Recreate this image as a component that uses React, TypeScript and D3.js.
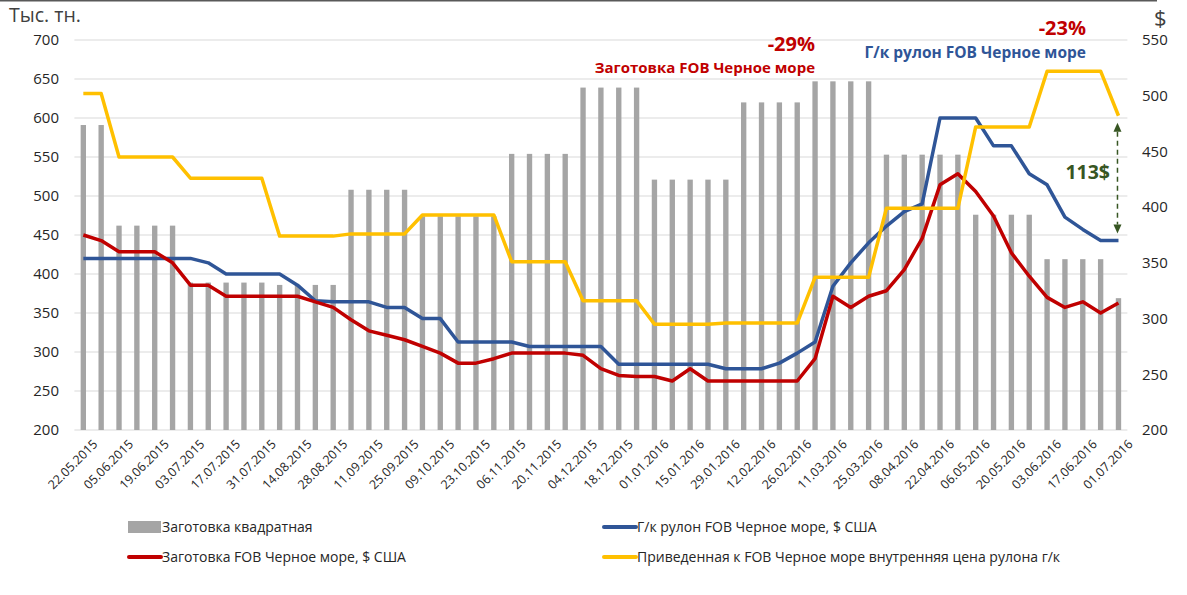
import React from "react";
import * as d3 from "d3";

const categories = [
  "22.05.2015","29.05.2015","05.06.2015","12.06.2015","19.06.2015","26.06.2015",
  "03.07.2015","10.07.2015","17.07.2015","24.07.2015","31.07.2015",
  "07.08.2015","14.08.2015","21.08.2015","28.08.2015",
  "04.09.2015","11.09.2015","18.09.2015","25.09.2015",
  "02.10.2015","09.10.2015","16.10.2015","23.10.2015","30.10.2015",
  "06.11.2015","13.11.2015","20.11.2015","27.11.2015",
  "04.12.2015","11.12.2015","18.12.2015","25.12.2015",
  "01.01.2016","08.01.2016","15.01.2016","22.01.2016","29.01.2016",
  "05.02.2016","12.02.2016","19.02.2016","26.02.2016",
  "04.03.2016","11.03.2016","18.03.2016","25.03.2016",
  "01.04.2016","08.04.2016","15.04.2016","22.04.2016","29.04.2016",
  "06.05.2016","13.05.2016","20.05.2016","27.05.2016",
  "03.06.2016","10.06.2016","17.06.2016","24.06.2016",
  "01.07.2016",
];

// Заготовка квадратная, тыс. тн (left axis)
const billetVolume = [
  591, 591, 462, 462, 462, 462,
  389, 389, 389, 389, 389,
  386, 386, 386, 386,
  508, 508, 508, 508,
  474, 474, 474, 474, 474,
  554, 554, 554, 554,
  639, 639, 639, 639,
  521, 521, 521, 521, 521,
  620, 620, 620, 620,
  647, 647, 647, 647,
  553, 553, 553, 553, 553,
  476, 476, 476, 476,
  419, 419, 419, 419,
  369,
];

// Заготовка FOB Черное море, $ США (right axis)
const billetFob = [
  375, 370, 360, 360, 360, 350,
  330, 330, 320, 320, 320,
  320, 320, 315, 310,
  299, 289, 285, 281,
  275, 269, 260, 260, 264,
  269, 269, 269, 269,
  267, 255, 249, 248,
  248, 244, 255, 244, 244,
  244, 244, 244, 244,
  264, 320, 310, 320,
  325, 344, 372, 420, 430,
  414, 392, 359, 338,
  319, 310, 315, 305,
  314,
];

// Г/к рулон FOB Черное море, $ США (right axis)
const hrcFob = [
  354, 354, 354, 354, 354, 354,
  354, 350, 340, 340, 340,
  340, 330, 316, 315,
  315, 315, 310, 310,
  300, 300, 279, 279, 279,
  279, 275, 275, 275,
  275, 275, 259, 259,
  259, 259, 259, 259, 255,
  255, 255, 260, 269,
  279, 329, 350, 368,
  383, 396, 403, 480, 480,
  480, 455, 455, 430,
  420, 391, 380, 370,
  370,
];

// Приведенная к FOB Черное море внутренняя цена рулона г/к (right axis)
const domesticHrc = [
  502, 502, 445, 445, 445, 445,
  426, 426, 426, 426, 426,
  374, 374, 374, 374,
  376, 376, 376, 376,
  393, 393, 393, 393, 393,
  351, 351, 351, 351,
  316, 316, 316, 316,
  295, 295, 295, 295, 296,
  296, 296, 296, 296,
  337, 337, 337, 337,
  399, 399, 399, 399, 399,
  472, 472, 472, 472,
  522, 522, 522, 522,
  482,
];

const leftTicks = [200, 250, 300, 350, 400, 450, 500, 550, 600, 650, 700];
const rightTicks = [200, 250, 300, 350, 400, 450, 500, 550];

const legendItems = [
  { label: "Заготовка квадратная", type: "bar", color: "#a5a5a5" },
  { label: "Г/к рулон FOB Черное море, $ США", type: "line", color: "#2f5597" },
  { label: "Заготовка FOB Черное море, $ США", type: "line", color: "#c00000" },
  { label: "Приведенная к FOB Черное море внутренняя цена рулона г/к", type: "line", color: "#ffc000" },
];

const W = 1187;
const H = 595;
const FONT = "'Open Sans', 'DejaVu Sans', sans-serif";

export default function App() {
  const plotLeft = 74.4;
  const plotRight = 1127.4;
  const plotTop = 40;
  const plotBottom = 430;

  const x = d3
    .scaleBand<string>()
    .domain(categories)
    .range([plotLeft, plotRight])
    .paddingInner(0.7)
    .paddingOuter(0.35);
  const cx = (c: string) => (x(c) as number) + x.bandwidth() / 2;

  const yL = d3.scaleLinear().domain([200, 700]).range([plotBottom, plotTop]);
  const yR = d3.scaleLinear().domain([200, 550]).range([plotBottom, plotTop]);

  const lineGen = (vals: number[]) =>
    d3
      .line<number>()
      .x((_, i) => cx(categories[i]))
      .y((v) => yR(v))(vals) as string;

  const lines = [
    { vals: hrcFob, color: "#2f5597" },
    { vals: billetFob, color: "#c00000" },
    { vals: domesticHrc, color: "#ffc000" },
  ];

  const lastX = cx(categories[categories.length - 1]);
  const arrowTop = yR(domesticHrc[domesticHrc.length - 1]) + 10;
  const arrowBottom = yR(hrcFob[hrcFob.length - 1]) - 10;

  return (
    <svg
      width={W}
      height={H}
      style={{ position: "absolute", left: 0, top: 0, display: "block", background: "#fff" }}
      fontFamily={FONT}
    >
      <line x1={0} x2={1157} y1={0.75} y2={0.75} stroke="#595959" strokeWidth={1.5} />

      {/* gridlines */}
      {leftTicks.map((t) => (
        <line key={"g" + t} x1={plotLeft} x2={plotRight} y1={yL(t)} y2={yL(t)} stroke="#d9d9d9" strokeWidth={1} />
      ))}

      {/* bars */}
      {billetVolume.map((v, i) => (
        <rect
          key={"b" + i}
          x={x(categories[i]) as number}
          width={x.bandwidth()}
          y={yL(v)}
          height={yL(200) - yL(v)}
          fill="#a5a5a5"
        />
      ))}

      {/* lines */}
      {lines.map((l, k) => (
        <path key={"l" + k} d={lineGen(l.vals)} fill="none" stroke={l.color} strokeWidth={3.5} strokeLinejoin="round" />
      ))}

      {/* left axis */}
      {leftTicks.map((t) => (
        <text key={"lt" + t} x={59} y={yL(t)} dy="0.35em" textAnchor="end" fontSize={15} fill="#262626">
          {t}
        </text>
      ))}
      {/* right axis */}
      {rightTicks.map((t) => (
        <text key={"rt" + t} x={1142} y={yR(t)} dy="0.35em" textAnchor="start" fontSize={15} fill="#262626">
          {t}
        </text>
      ))}

      {/* x labels */}
      {categories.map((c, i) =>
        i % 2 === 0 ? (
          <text
            key={"x" + i}
            transform={`translate(${cx(c) + 15},${445}) rotate(-45)`}
            textAnchor="end"
            fontSize={12.5}
            fill="#262626"
          >
            {c}
          </text>
        ) : null
      )}

      {/* axis titles */}
      <text x={9} y={22} fontSize={19.5} fill="#404040">Тыс. тн.</text>
      <text x={1154} y={26} fontSize={22} fill="#404040">$</text>

      {/* annotations */}
      <text x={815} y={51} textAnchor="end" fontSize={20} fontWeight="bold" fill="#c00000">-29%</text>
      <text x={815} y={73} textAnchor="end" fontSize={15} fontWeight="bold" fill="#c00000">Заготовка FOB Черное море</text>
      <text x={1086} y={35} textAnchor="end" fontSize={20} fontWeight="bold" fill="#c00000">-23%</text>
      <text x={1086} y={58} textAnchor="end" fontSize={15.5} fontWeight="bold" fill="#2f5597">Г/к рулон FOB Черное море</text>
      <text x={1110} y={179} textAnchor="end" fontSize={19.5} fontWeight="bold" fill="#375623">113$</text>

      {/* dashed arrow */}
      <line x1={lastX - 1} x2={lastX - 1} y1={arrowTop + 6} y2={arrowBottom - 6} stroke="#375623" strokeWidth={1.5} strokeDasharray="5,4" />
      <path d={`M${lastX - 1},${arrowTop - 3} l-4,9 l8,0 z`} fill="#375623" />
      <path d={`M${lastX - 1},${arrowBottom + 3} l-4,-9 l8,0 z`} fill="#375623" />

      {/* legend */}
      {legendItems.map((it, k) => {
        const col = k % 2;
        const row = Math.floor(k / 2);
        const lx = col === 0 ? 128 : 603;
        const ly = 527 + row * 30;
        return (
          <g key={"lg" + k}>
            {it.type === "bar" ? (
              <rect x={lx} y={ly - 6} width={33} height={12} fill={it.color} />
            ) : (
              <line x1={lx + 1} x2={lx + 33} y1={ly} y2={ly} stroke={it.color} strokeWidth={4} strokeLinecap="round" />
            )}
            <text x={lx + 34} y={ly} dy="0.35em" fontSize={14} fill="#262626">
              {it.label}
            </text>
          </g>
        );
      })}
    </svg>
  );
}
